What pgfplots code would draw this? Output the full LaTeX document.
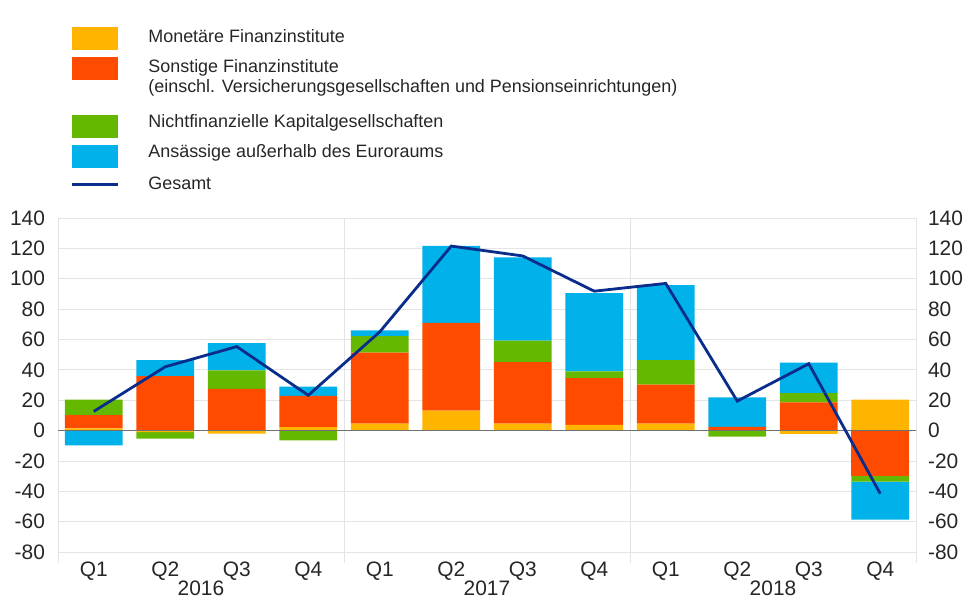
\documentclass[border=0pt]{standalone}
\usepackage{fontspec}
\setmainfont{Liberation Sans}
\usepackage{pgfplots}
\usepackage{pgfplotstable}
\pgfplotsset{compat=1.18}

\definecolor{mfiyellow}{HTML}{FFB400}
\definecolor{ofiorange}{HTML}{FF4B00}
\definecolor{nfcgreen}{HTML}{65B800}
\definecolor{rowblue}{HTML}{00B1EA}
\definecolor{totalnavy}{HTML}{0A2D8C}
\definecolor{gridgray}{HTML}{E4E4E4}
\definecolor{zerogray}{HTML}{707070}
\definecolor{labelgray}{HTML}{262626}

% quarterly flows, 2016 Q1 .. 2018 Q4
\pgfplotstableread{
x  mfi   ofi    nfc    row    total
0  1.5   8.7    10.2   -9.7   12.6
1  -1.0  35.8   -4.3   10.6   42.0
2  -2.0  27.4   12.2   17.9   55.3
3  2.3   20.5   -6.4   6.2    23.2
4  4.6   46.7   10.9   3.7    65.0
5  13.1  57.9   0.0    50.6   121.5
6  4.6   40.5   14.2   54.8   115.0
7  3.8   30.7   4.4    51.6   91.8
8  4.6   25.7   16.1   49.4   96.9
9  0.0   2.4    -4.0   19.5   19.4
10 -2.2  18.6   6.0    20.1   44.0
11 20.4  -29.7  -3.9   -25.0  -41.6
}\flows

\pgfplotsset{
  flowaxis/.style={
    scale only axis,
    width=429bp, height=167bp,
    at={(29bp,23.5bp)}, anchor=south west,
    xmin=-0.5, xmax=11.5, ymin=-80, ymax=140,
    enlargelimits=false,
    ytick={-80,-60,...,140},
    tick label style={font=\fontsize{10.5}{12}\selectfont, text=labelgray},
    /pgf/number format/assume math mode=true,
  },
  flowbars/.style={ybar stacked, bar width=0.81},
}

\begin{document}
\begin{tikzpicture}
  \path[use as bounding box] (0,0) rectangle (484.5bp,299.5bp);

  % positive parts, grid and left scale
  \begin{axis}[
    flowaxis, flowbars,
    axis line style={draw=gridgray},
    ymajorgrids, major grid style={draw=gridgray},
    xtick={0,...,11},
    xticklabels={Q1,Q2,Q3,Q4,Q1,Q2,Q3,Q4,Q1,Q2,Q3,Q4},
    xticklabel style={yshift=-1.5bp},
    minor xtick={-0.5,3.5,7.5,11.5},
    xminorgrids, minor grid style={draw=gridgray},
    tick align=outside,
    major tick length=0pt,
    minor tick length=5.5bp,
    minor tick style={draw=gridgray},
    xtick pos=left, ytick pos=left,
    yticklabel style={xshift=-3bp},
  ]
    \addplot[fill=mfiyellow, draw=none] table[x=x, y expr={max(\thisrow{mfi},0)}] {\flows};
    \addplot[fill=ofiorange, draw=none] table[x=x, y expr={max(\thisrow{ofi},0)}] {\flows};
    \addplot[fill=nfcgreen, draw=none] table[x=x, y expr={max(\thisrow{nfc},0)}] {\flows};
    \addplot[fill=rowblue, draw=none] table[x=x, y expr={max(\thisrow{row},0)}] {\flows};
  \end{axis}

  % negative parts and right scale
  \begin{axis}[
    flowaxis, flowbars,
    hide x axis,
    axis y line*=right,
    y axis line style={draw=none},
    ytick style={draw=none},
    yticklabel style={xshift=2.5bp},
  ]
    \addplot[fill=mfiyellow, draw=none] table[x=x, y expr={min(\thisrow{mfi},0)}] {\flows};
    \addplot[fill=ofiorange, draw=none] table[x=x, y expr={min(\thisrow{ofi},0)}] {\flows};
    \addplot[fill=nfcgreen, draw=none] table[x=x, y expr={min(\thisrow{nfc},0)}] {\flows};
    \addplot[fill=rowblue, draw=none] table[x=x, y expr={min(\thisrow{row},0)}] {\flows};
  \end{axis}

  % zero line, total and years
  \begin{axis}[flowaxis, hide axis, clip=false]
    \addplot[zerogray, line width=0.7pt] coordinates {(-0.5,0) (11.5,0)};
    \addplot[totalnavy, line width=1.4bp] table[x=x, y=total] {\flows};
    \foreach \yr/\xc in {2016/1.5, 2017/5.5, 2018/9.5} {
      \edef\tmp{\noexpand\node[anchor=north, inner sep=0pt, yshift=-14bp,
        font=\noexpand\fontsize{10.5}{12}\noexpand\selectfont, text=labelgray]
        at (axis cs:\xc,-80) {\yr};}
      \tmp
    }
  \end{axis}

  % legend
  \begin{scope}[font=\fontsize{9}{10.5}\selectfont, text=labelgray]
    \fill[mfiyellow] (36bp,274.5bp) rectangle (59bp,286bp);
    \fill[ofiorange] (36bp,259.5bp) rectangle (59bp,271bp);
    \fill[nfcgreen] (36bp,230.5bp) rectangle (59bp,242bp);
    \fill[rowblue] (36bp,215.5bp) rectangle (59bp,227bp);
    \draw[totalnavy, line width=1.5bp] (36bp,207bp) -- (59bp,207bp);
    \node[anchor=west, inner sep=0pt] at (74bp,281.5bp) {Monetäre Finanzinstitute};
    \node[anchor=west, inner sep=0pt] at (74bp,265.5bp) {Sonstige Finanzinstitute};
    \node[anchor=west, inner sep=0pt] at (74bp,255.5bp) {(einschl. Versicherungsgesellschaften und Pensionseinrichtungen)};
    \node[anchor=west, inner sep=0pt] at (74bp,238bp) {Nichtfinanzielle Kapitalgesellschaften};
    \node[anchor=west, inner sep=0pt] at (74bp,223bp) {Ansässige außerhalb des Euroraums};
    \node[anchor=west, inner sep=0pt] at (74bp,208bp) {Gesamt};
  \end{scope}
\end{tikzpicture}
\end{document}
